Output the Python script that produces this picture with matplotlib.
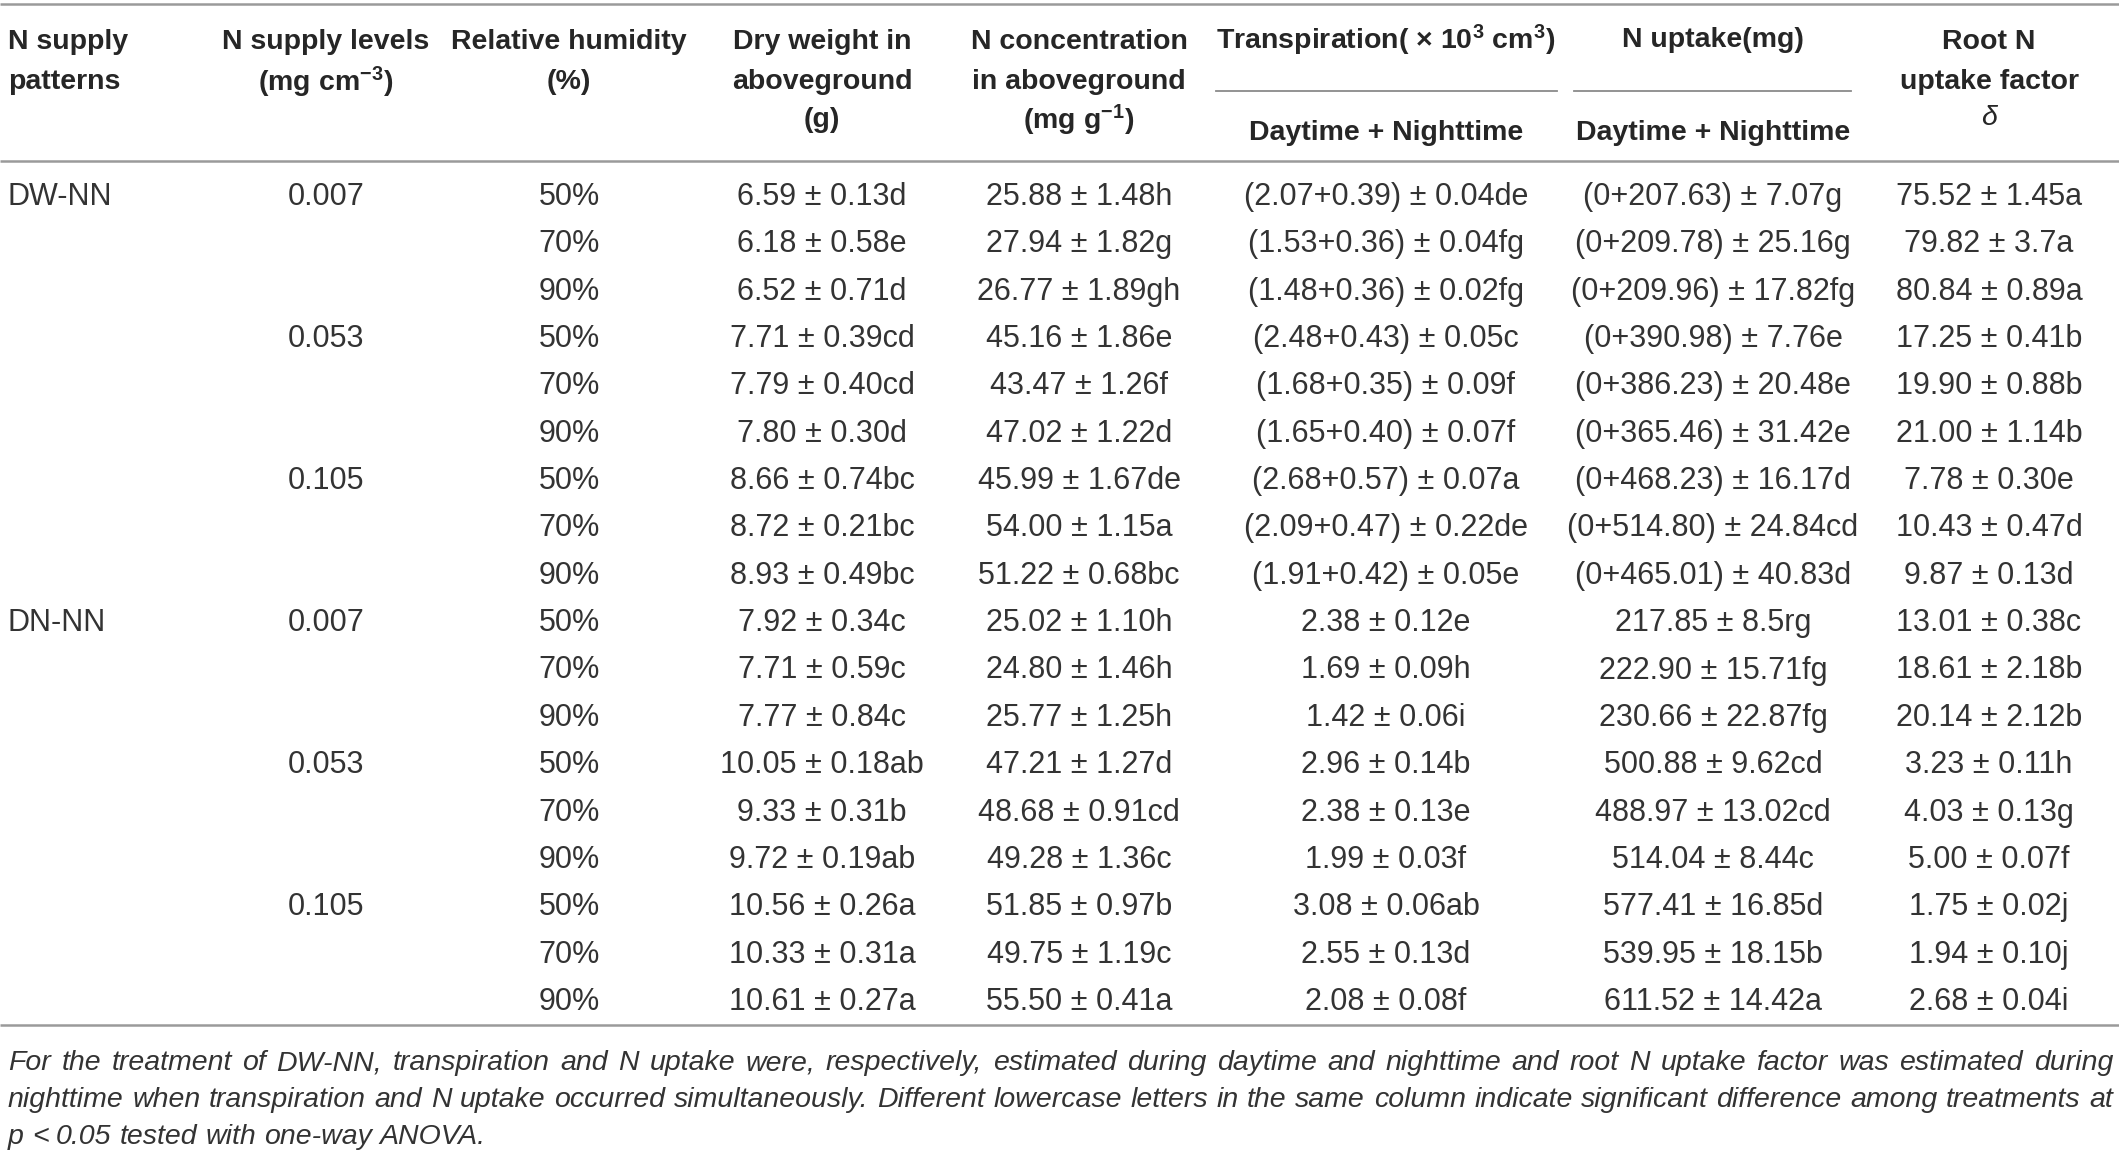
import matplotlib
matplotlib.use("Agg")
import matplotlib.pyplot as plt

# ---------------- data ----------------
patterns = ["DW-NN", "DN-NN"]
n_levels = ["0.007", "0.053", "0.105"]
humidity = ["50%", "70%", "90%"]

dry_weight = ["6.59 ± 0.13d", "6.18 ± 0.58e", "6.52 ± 0.71d",
              "7.71 ± 0.39cd", "7.79 ± 0.40cd", "7.80 ± 0.30d",
              "8.66 ± 0.74bc", "8.72 ± 0.21bc", "8.93 ± 0.49bc",
              "7.92 ± 0.34c", "7.71 ± 0.59c", "7.77 ± 0.84c",
              "10.05 ± 0.18ab", "9.33 ± 0.31b", "9.72 ± 0.19ab",
              "10.56 ± 0.26a", "10.33 ± 0.31a", "10.61 ± 0.27a"]
n_conc = ["25.88 ± 1.48h", "27.94 ± 1.82g", "26.77 ± 1.89gh",
          "45.16 ± 1.86e", "43.47 ± 1.26f", "47.02 ± 1.22d",
          "45.99 ± 1.67de", "54.00 ± 1.15a", "51.22 ± 0.68bc",
          "25.02 ± 1.10h", "24.80 ± 1.46h", "25.77 ± 1.25h",
          "47.21 ± 1.27d", "48.68 ± 0.91cd", "49.28 ± 1.36c",
          "51.85 ± 0.97b", "49.75 ± 1.19c", "55.50 ± 0.41a"]
transpiration = ["(2.07+0.39) ± 0.04de", "(1.53+0.36) ± 0.04fg", "(1.48+0.36) ± 0.02fg",
                 "(2.48+0.43) ± 0.05c", "(1.68+0.35) ± 0.09f", "(1.65+0.40) ± 0.07f",
                 "(2.68+0.57) ± 0.07a", "(2.09+0.47) ± 0.22de", "(1.91+0.42) ± 0.05e",
                 "2.38 ± 0.12e", "1.69 ± 0.09h", "1.42 ± 0.06i",
                 "2.96 ± 0.14b", "2.38 ± 0.13e", "1.99 ± 0.03f",
                 "3.08 ± 0.06ab", "2.55 ± 0.13d", "2.08 ± 0.08f"]
n_uptake = ["(0+207.63) ± 7.07g", "(0+209.78) ± 25.16g", "(0+209.96) ± 17.82fg",
            "(0+390.98) ± 7.76e", "(0+386.23) ± 20.48e", "(0+365.46) ± 31.42e",
            "(0+468.23) ± 16.17d", "(0+514.80) ± 24.84cd", "(0+465.01) ± 40.83d",
            "217.85 ± 8.5rg", "222.90 ± 15.71fg", "230.66 ± 22.87fg",
            "500.88 ± 9.62cd", "488.97 ± 13.02cd", "514.04 ± 8.44c",
            "577.41 ± 16.85d", "539.95 ± 18.15b", "611.52 ± 14.42a"]
root_factor = ["75.52 ± 1.45a", "79.82 ± 3.7a", "80.84 ± 0.89a",
               "17.25 ± 0.41b", "19.90 ± 0.88b", "21.00 ± 1.14b",
               "7.78 ± 0.30e", "10.43 ± 0.47d", "9.87 ± 0.13d",
               "13.01 ± 0.38c", "18.61 ± 2.18b", "20.14 ± 2.12b",
               "3.23 ± 0.11h", "4.03 ± 0.13g", "5.00 ± 0.07f",
               "1.75 ± 0.02j", "1.94 ± 0.10j", "2.68 ± 0.04i"]

footnote_lines = [
    "For the treatment of DW-NN, transpiration and N uptake were, respectively, estimated during daytime and nighttime and root N uptake factor was estimated during",
    "nighttime when transpiration and N uptake occurred simultaneously. Different lowercase letters in the same column indicate significant difference among treatments at",
    "p < 0.05 tested with one-way ANOVA.",
]

# ---------------- layout ----------------
W, H = 2119, 1158
plt.rcParams['font.family'] = ['Liberation Sans', 'DejaVu Sans']
plt.rcParams['mathtext.default'] = 'regular'

fig = plt.figure(figsize=(W / 100, H / 100), dpi=100)
ax = fig.add_axes([0, 0, 1, 1])
ax.set_xlim(0, W)
ax.set_ylim(H, 0)
ax.axis('off')

TXT = '#262626'
BODY = '#333333'
RULE = '#9a9a9a'
FS = 22
HFS = 20.5

col_x = [8, 326, 569, 822, 1079, 1386, 1713, 1989]

# rules
for yy in (4, 161, 1025):
    ax.plot([0, W], [yy, yy], color=RULE, lw=1.8, solid_capstyle='butt')
ax.plot([1216, 1557], [91, 91], color='#8a8a8a', lw=1.3)
ax.plot([1574, 1851], [91, 91], color='#8a8a8a', lw=1.3)

# header
hkw = dict(fontsize=HFS, fontweight='bold', color=TXT, va='center')
hy = [42, 82, 120]
ax.text(col_x[0], hy[0], "N supply", ha='left', **hkw)
ax.text(col_x[0], hy[1], "patterns", ha='left', **hkw)
ax.text(col_x[1], hy[0], "N supply levels", ha='center', **hkw)
ax.text(col_x[1], hy[1], r"(mg cm$^{-3}$)", ha='center', **hkw)
ax.text(col_x[2], hy[0], "Relative humidity", ha='center', **hkw)
ax.text(col_x[2], hy[1], "(%)", ha='center', **hkw)
for i, s in enumerate(["Dry weight in", "aboveground", "(g)"]):
    ax.text(col_x[3], hy[i], s, ha='center', **hkw)
for i, s in enumerate(["N concentration", "in aboveground", r"(mg g$^{-1}$)"]):
    ax.text(col_x[4], hy[i], s, ha='center', **hkw)
ax.text(col_x[5], 40, r"Transpiration( × 10$^3$ cm$^3$)", ha='center', **hkw)
ax.text(col_x[5], 133, "Daytime + Nighttime", ha='center', **hkw)
ax.text(col_x[6], 40, "N uptake(mg)", ha='center', **hkw)
ax.text(col_x[6], 133, "Daytime + Nighttime", ha='center', **hkw)
ax.text(col_x[7], hy[0], "Root N", ha='center', **hkw)
ax.text(col_x[7], hy[1], "uptake factor", ha='center', **hkw)
ax.text(col_x[7], 118, "δ", ha='center', va='center', fontsize=HFS,
        fontstyle='italic', color=TXT)

# body
y0, dy = 197, 47.35
dkw = dict(fontsize=FS, color=BODY, va='center', ha='center')
columns = [dry_weight, n_conc, transpiration, n_uptake, root_factor]
nrow = len(dry_weight)
for r in range(nrow):
    y = y0 + dy * r
    p = r // 9
    lv = (r // 3) % 3
    hm = r % 3
    if r % 9 == 0:
        ax.text(col_x[0], y, patterns[p], ha='left', va='center', fontsize=FS, color=BODY)
    if r % 3 == 0:
        ax.text(col_x[1], y, n_levels[lv], **dkw)
    ax.text(col_x[2], y, humidity[hm], **dkw)
    for c, col in enumerate(columns):
        ax.text(col_x[3 + c], y, col[r], **dkw)

# footnote (justified)
fig.canvas.draw()
renderer = fig.canvas.get_renderer()
left, right = 8, W - 6
fn_y = [1063, 1100, 1137]


def text_w(s, fs):
    t = ax.text(0, 0, s, fontsize=fs, fontstyle='italic')
    bb = t.get_window_extent(renderer=renderer)
    t.remove()
    return bb.width


FFS = 20.5
for _ in range(30):
    sw = text_w("a b", FFS) - text_w("ab", FFS)
    ok = True
    for line in footnote_lines[:-1]:
        words = line.split(" ")
        tot = sum(text_w(w, FFS) for w in words)
        gap = (right - left - tot) / (len(words) - 1)
        if gap < 0.8 * sw:
            ok = False
    if ok:
        break
    FFS -= 0.25

space_w = text_w("a b", FFS) - text_w("ab", FFS)
for i, line in enumerate(footnote_lines):
    words = line.split(" ")
    widths = [text_w(w, FFS) for w in words]
    if i < len(footnote_lines) - 1:
        gap = (right - left - sum(widths)) / (len(words) - 1)
    else:
        gap = space_w
    x = left
    for w, wd in zip(words, widths):
        ax.text(x, fn_y[i], w, fontsize=FFS, fontstyle='italic', color=BODY,
                ha='left', va='center')
        x += wd + gap

fig.savefig("out.png", dpi=100, facecolor='white')
